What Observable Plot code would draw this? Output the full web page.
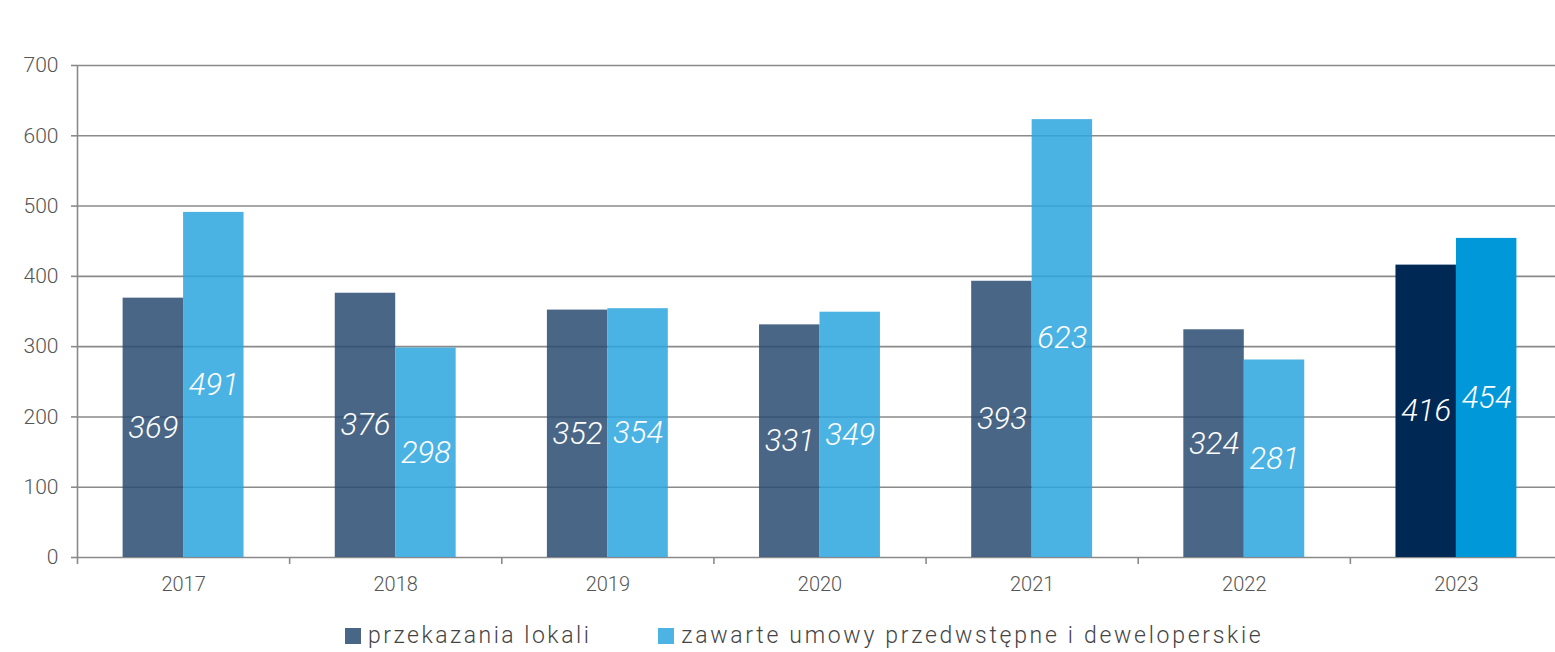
<!DOCTYPE html>
<html>
<head>
<meta charset="utf-8">
<script src="https://cdn.jsdelivr.net/npm/d3@7"></script>
<script src="https://cdn.jsdelivr.net/npm/@observablehq/plot@0.6"></script>
<style>
  html, body { margin: 0; padding: 0; background: #fff; }
  body { position: relative; width: 1555px; height: 652px; overflow: hidden; font-family: Roboto, "Open Sans", sans-serif; }
  #chart { position: absolute; left: 0; top: 0; }
  #chart svg { display: block; overflow: hidden; }
  .legend { position: absolute; left: 0; top: 622px; width: 1555px; height: 28px; line-height: 28px; box-sizing: border-box; padding-left: 345px; display: flex; justify-content: flex-start; align-items: center; font-size: 23px; font-weight: 300; letter-spacing: 2.5px; color: #444; }
  .legend .item { display: flex; align-items: center; }
  .legend .sw { width: 16px; height: 16px; margin-right: 7px; display: inline-block; }
</style>
</head>
<body>
<div id="chart"></div>
<div class="legend">
  <div class="item" style="margin-right:67px"><span class="sw" style="background:#4a6686"></span><span id="l1"></span></div>
  <div class="item"><span class="sw" style="background:#4cb3e3"></span><span id="l2" style="letter-spacing:2.7px"></span></div>
</div>
<script>
const years = [2017, 2018, 2019, 2020, 2021, 2022, 2023];
const przekazania = [369, 376, 352, 331, 393, 324, 416];
const umowy = [491, 298, 354, 349, 623, 281, 454];
const seriesNames = ["przekazania lokali", "zawarte umowy przedwstępne i deweloperskie"];
const yTicks = [0, 100, 200, 300, 400, 500, 600, 700];
const highlightYear = 2023;

document.getElementById("l1").textContent = seriesNames[0];
document.getElementById("l2").textContent = seriesNames[1];

const half = 0.285; // half of a group's width, in category units
const rows = [];
years.forEach((y, i) => {
  rows.push({year: y, series: 0, value: przekazania[i], x1: y - half, x2: y});
  rows.push({year: y, series: 1, value: umowy[i], x1: y, x2: y + half});
});
const past = rows.filter(d => d.year !== highlightYear);
const hi = rows.filter(d => d.year === highlightYear);
const boundaries = years.map(y => y - 0.5);

const chart = Plot.plot({
  width: 1555,
  height: 610,
  marginLeft: 77,
  marginRight: 0,
  marginTop: 65,
  marginBottom: 53,
  style: {fontFamily: "Roboto, 'Open Sans', sans-serif", color: "#555", background: "transparent"},
  x: {type: "linear", domain: [2016.5, 2023.5], range: [77, 1562], axis: null},
  y: {domain: [0, 700], axis: null},
  marks: [
    Plot.ruleY(yTicks, {x1: 2016.5, x2: 2023.5, stroke: "#8a8a8a", strokeWidth: 1.6}),
    Plot.ruleX([2016.5], {y1: 0, y2: 700, stroke: "#8a8a8a", strokeWidth: 1.6}),
    Plot.axisY({ticks: yTicks, label: null, tickSize: 6, tickPadding: 13, fontSize: 21, fontWeight: 300, stroke: "#8a8a8a", strokeWidth: 1.6, tickFormat: d => String(d)}),
    Plot.axisX({ticks: boundaries, label: null, tickSize: 7, tickFormat: () => "", stroke: "#8a8a8a", strokeWidth: 1.6}),
    Plot.axisX({ticks: years, label: null, tickSize: 0, tickPadding: 19, fontSize: 20, fontWeight: 300, tickFormat: d => String(d)}),
    Plot.rectY(past, {x1: "x1", x2: "x2", y: "value", fill: d => d.series === 0 ? "#2a4b71" : "#2ca6de", fillOpacity: 0.85}),
    Plot.rectY(hi, {x1: "x1", x2: "x2", y: "value", fill: d => d.series === 0 ? "#002855" : "#0098d8"}),
    Plot.text(rows, {x: d => (d.x1 + d.x2) / 2, y: d => d.value / 2, text: d => String(d.value), fill: "white", fontSize: 31, fontStyle: "italic", fontWeight: 300})
  ]
});
document.getElementById("chart").appendChild(chart);
</script>
</body>
</html>
